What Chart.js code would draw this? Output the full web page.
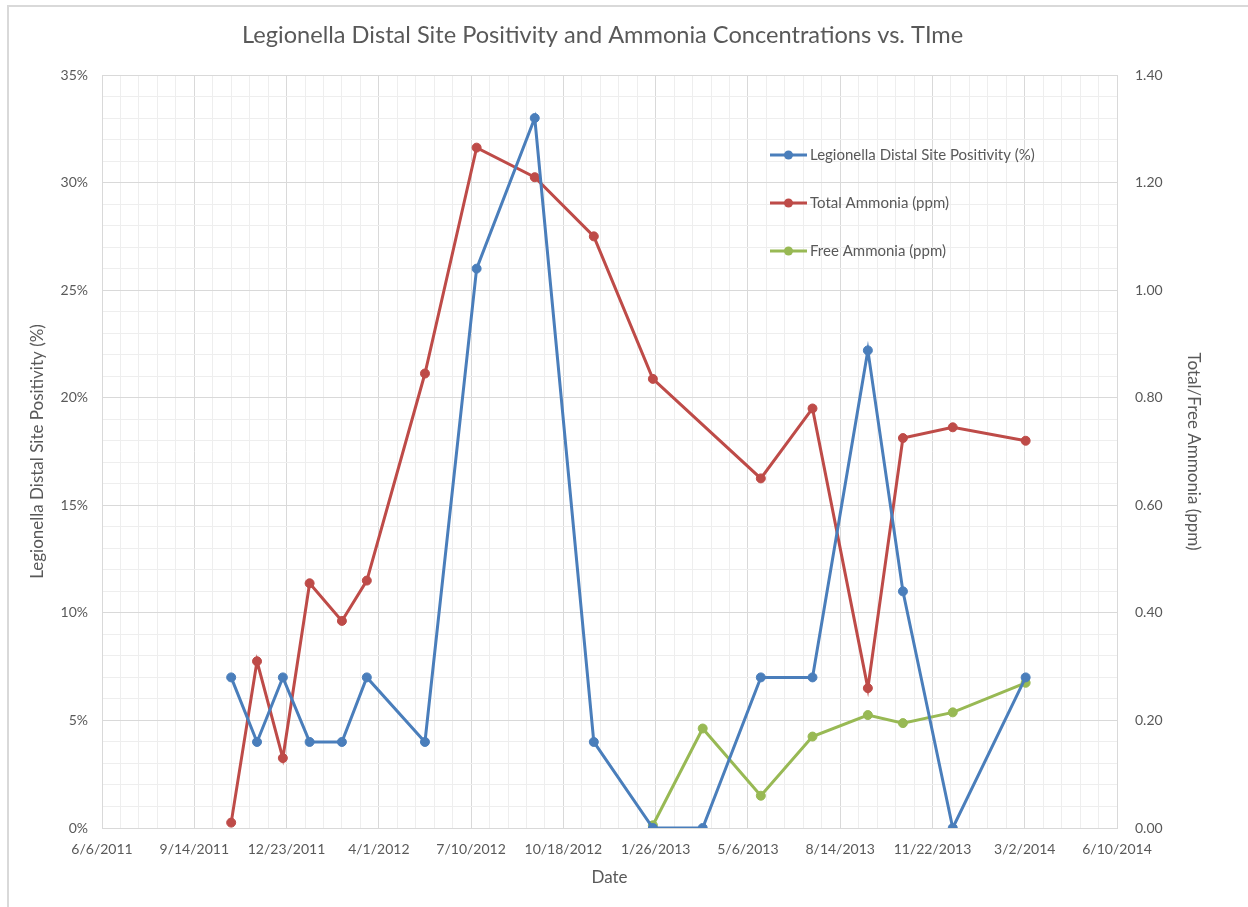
<!DOCTYPE html>
<html lang="en">
<head>
    <meta charset="UTF-8">
    <title>Legionella Distal Site Positivity and Ammonia Concentrations vs. TIme</title>
    <script src="https://cdn.jsdelivr.net/npm/chart.js"></script>
    <style>
        body {
            margin: 0;
            background: #ffffff;
            font-family: Lato, Arial, sans-serif;
        }
        .wrap {
            position: relative;
            width: 1248px;
            height: 907px;
        }
        .frame {
            position: absolute;
            left: 7px;
            top: 5px;
            right: -20px;
            bottom: -20px;
            border-left: 2px solid #d9d9d9;
            border-top: 2px solid #d9d9d9;
            pointer-events: none;
        }
    </style>
</head>
<body>
    <div class="wrap">
        <canvas id="chart" width="1248" height="907"></canvas>
        <div class="frame"></div>
    </div>

    <script>
        // sample dates (shared by all three series)
        const sampleDates = [
            '2011-10-24', '2011-11-21', '2011-12-19', '2012-01-17', '2012-02-21', '2012-03-19',
            '2012-05-21', '2012-07-16', '2012-09-17', '2012-11-20', '2013-01-23', '2013-03-18',
            '2013-05-20', '2013-07-15', '2013-09-13', '2013-10-21', '2013-12-14', '2014-03-03'
        ];
        // Legionella distal site positivity, %
        const positivity = [7, 4, 7, 4, 4, 7, 4, 26, 33, 4, 0, 0, 7, 7, 22.2, 11, 0, 7];
        // total ammonia, ppm
        const totalAmmonia = [0.01, 0.31, 0.13, 0.455, 0.385, 0.46, 0.845, 1.265, 1.21, 1.10, 0.835, null,
                              0.65, 0.78, 0.26, 0.725, 0.745, 0.72];
        // free ammonia, ppm
        const freeAmmonia = [null, null, null, null, null, null, null, null, null, null, 0.005, 0.185,
                             0.06, 0.17, 0.21, 0.195, 0.215, 0.27];

        const seriesNames = ['Legionella Distal Site Positivity (%)', 'Total Ammonia (ppm)', 'Free Ammonia (ppm)'];
        const seriesColors = ['#4a7ebb', '#be4b48', '#98b954'];

        // x axis: days from 6/6/2011, labelled every 100 days, minor grid every 20
        const axisStart = Date.UTC(2011, 5, 6);
        const DAY = 86400000;
        const xMin = 0, xMax = 1100, xMajor = 100, xMinor = 20;
        const leftMax = 35, rightMax = 1.4;

        function dayOf(s) {
            const p = s.split('-').map(Number);
            return (Date.UTC(p[0], p[1] - 1, p[2]) - axisStart) / DAY;
        }
        function dateLabel(d) {
            const dt = new Date(axisStart + d * DAY);
            return (dt.getUTCMonth() + 1) + '/' + dt.getUTCDate() + '/' + dt.getUTCFullYear();
        }
        function points(values) {
            return sampleDates.map((s, i) => ({ x: dayOf(s), y: values[i] }));
        }

        const FONT = 'Lato, Arial, sans-serif';
        const textColor = '#595959';
        const majorGrid = '#d9d9d9';
        const minorGrid = '#eeeeee';

        // legend drawn inside the plot, like the Excel original
        const innerLegend = {
            id: 'innerLegend',
            afterDraw(chart) {
                const ctx = chart.ctx;
                const x0 = 770, y0 = 155, gap = 48;
                ctx.save();
                ctx.font = '15px ' + FONT;
                ctx.textBaseline = 'middle';
                chart.data.datasets.forEach((ds, i) => {
                    const y = y0 + i * gap;
                    ctx.strokeStyle = ds.borderColor;
                    ctx.lineWidth = 3;
                    ctx.beginPath();
                    ctx.moveTo(x0, y);
                    ctx.lineTo(x0 + 37, y);
                    ctx.stroke();
                    ctx.fillStyle = ds.borderColor;
                    ctx.beginPath();
                    ctx.arc(x0 + 18.5, y, 4.5, 0, Math.PI * 2);
                    ctx.fill();
                    ctx.fillStyle = textColor;
                    ctx.fillText(ds.label, x0 + 40, y);
                });
                ctx.restore();
            }
        };

        function lineSet(i, values, axis) {
            return {
                label: seriesNames[i],
                data: points(values),
                yAxisID: axis,
                borderColor: seriesColors[i],
                backgroundColor: seriesColors[i],
                borderWidth: 3,
                pointRadius: 4.5,
                pointBorderWidth: 1,
                pointHoverRadius: 4.5,
                spanGaps: true,
                tension: 0
            };
        }

        const ctx = document.getElementById('chart').getContext('2d');
        new Chart(ctx, {
            type: 'line',
            data: {
                datasets: [
                    lineSet(0, positivity, 'y'),
                    lineSet(1, totalAmmonia, 'y1'),
                    lineSet(2, freeAmmonia, 'y1')
                ]
            },
            options: {
                responsive: false,
                animation: false,
                layout: { padding: { left: 2, right: 44.8, top: 0, bottom: 19 } },
                plugins: {
                    legend: { display: false },
                    tooltip: { enabled: false },
                    title: {
                        display: true,
                        text: 'Legionella Distal Site Positivity and Ammonia Concentrations vs. TIme',
                        color: textColor,
                        font: { family: FONT, size: 23.6, weight: 'normal' },
                        padding: { top: 21.4, bottom: 25.3 }
                    }
                },
                scales: {
                    x: {
                        type: 'linear',
                        min: xMin,
                        max: xMax,
                        afterFit: s => { s.height = 60; },
                        ticks: {
                            stepSize: xMinor,
                            autoSkip: false,
                            maxRotation: 0,
                            padding: 13,
                            color: textColor,
                            font: { family: FONT, size: 14 },
                            callback: v => (v % xMajor === 0 ? dateLabel(v) : '')
                        },
                        grid: {
                            drawTicks: false,
                            color: c => (c.tick && c.tick.value % xMajor === 0 ? majorGrid : minorGrid)
                        },
                        border: { color: majorGrid },
                        title: {
                            display: true,
                            text: 'Date',
                            color: textColor,
                            font: { family: FONT, size: 17 },
                            padding: { top: 4, bottom: 0 }
                        }
                    },
                    y: {
                        position: 'left',
                        min: 0,
                        max: leftMax,
                        afterFit: s => { s.width = 100; },
                        ticks: {
                            stepSize: 1,
                            autoSkip: false,
                            padding: 14,
                            color: textColor,
                            font: { family: FONT, size: 14 },
                            callback: v => (v % 5 === 0 ? v + '%' : '')
                        },
                        grid: {
                            drawTicks: false,
                            color: c => (c.tick && c.tick.value % 5 === 0 ? majorGrid : minorGrid)
                        },
                        border: { color: majorGrid },
                        title: {
                            display: true,
                            text: 'Legionella Distal Site Positivity (%)',
                            color: textColor,
                            font: { family: FONT, size: 17 },
                            padding: { top: 25.8, bottom: 0 }
                        }
                    },
                    y1: {
                        position: 'right',
                        min: 0,
                        max: rightMax,
                        afterFit: s => { s.width = 86.2; },
                        ticks: {
                            stepSize: 0.2,
                            padding: 18,
                            color: textColor,
                            font: { family: FONT, size: 14 },
                            callback: v => v.toFixed(2)
                        },
                        grid: { drawOnChartArea: false, drawTicks: false },
                        border: { color: majorGrid },
                        title: {
                            display: true,
                            text: 'Total/Free Ammonia (ppm)',
                            color: textColor,
                            font: { family: FONT, size: 17 },
                            padding: { top: 0, bottom: 0 }
                        }
                    }
                }
            },
            plugins: [innerLegend]
        });
    </script>
</body>
</html>
